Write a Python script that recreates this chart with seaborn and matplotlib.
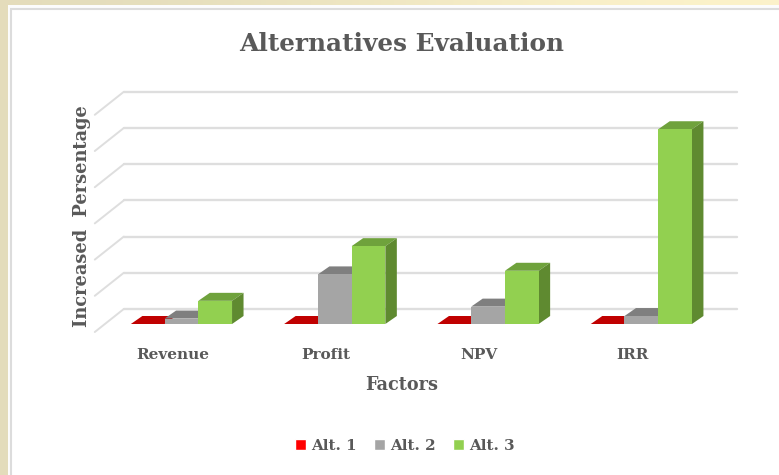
import numpy as np
import pandas as pd
import matplotlib
matplotlib.use('Agg')
import matplotlib.pyplot as plt
import seaborn as sns
from matplotlib.patches import Polygon, Rectangle
from matplotlib.transforms import Affine2D

factors = ['Revenue', 'Profit', 'NPV', 'IRR']
alt_names = ['Alt. 1', 'Alt. 2', 'Alt. 3']
alt1 = [0, 0, 0, 0]
alt2 = [1.5, 13.7, 4.8, 2.2]
alt3 = [6.4, 21.5, 14.7, 53.8]
grid_values = [0, 10, 20, 30, 40, 50, 60]

front_colors = ['#ff0000', '#a5a5a5', '#92d050']
top_colors = ['#c00000', '#7f7f7f', '#6fa23c']
side_colors = ['#c00000', '#6e6e6e', '#5f8a30']
text_color = '#595959'

df = pd.DataFrame({
    'factor': factors * 3,
    'alt': np.repeat(alt_names, 4),
    'value': alt1 + alt2 + alt3,
})

W, H = 779, 475
sns.set_theme(style='white')
plt.rcParams['font.family'] = ['DejaVu Serif']
fig = plt.figure(figsize=(W / 100, H / 100), dpi=100)

# beige frame behind the white panel
bg = fig.add_axes([0, 0, 1, 1], zorder=0)
bg.imshow([[0.0, 1.0], [0.0, 0.5]], cmap=matplotlib.colors.LinearSegmentedColormap.from_list(
    'frame', ['#e3dcbb', '#fdf3cb']), extent=(0, W, 0, H), aspect='auto', interpolation='bicubic')
bg.add_patch(Rectangle((8, -5), W, H, fc='#fcfcfc', ec='none'))
bg.add_patch(Rectangle((11.5, -5), W, H - 3.5, fc='white', ec='#dcdcdc', lw=1.5))
bg.set_xlim(0, W)
bg.set_ylim(0, H)
bg.axis('off')

# axes plane is the one holding the bars' front faces
left, right, bottom, top = 104.8, 718, 324, 106.8
ax = fig.add_axes([left / W, 1 - bottom / H, (right - left) / W, (bottom - top) / H], zorder=1)
ax.patch.set_alpha(0)

sns.barplot(data=df, x='factor', y='value', hue='alt', palette=front_colors,
            saturation=1, width=0.66, gap=0, ax=ax, legend=False, linewidth=0, zorder=3)
ax.set_xlim(-0.5, 3.5)
ax.set_ylim(0, 60)

# back wall and left wall gridlines
back = ax.get_yaxis_transform() + Affine2D().translate(19, 15)
for v in grid_values:
    ax.plot([0, 1], [v, v], transform=back, color='#dedede', lw=1.7, clip_on=False, zorder=1)
    x0, y0 = ax.transData.transform((-0.5, v))
    ax.plot([x0 - 10, x0 + 19], [y0 - 8, y0 + 15], transform=None, color='#dedede', lw=1.4,
            clip_on=False, zorder=1)

# extrude each bar for the 3D look
dx, dy = 11.5, 8
for i in range(3):
    for bar in ax.containers[i]:
        (x0, y0), (x1, y1) = ax.transData.transform(bar.get_bbox().get_points())
        top_face = [(x0, y1), (x1, y1), (x1 + dx, y1 + dy), (x0 + dx, y1 + dy)]
        side_face = [(x1, y0), (x1 + dx, y0 + dy), (x1 + dx, y1 + dy), (x1, y1)]
        z = 2 + i * 0.1
        ax.add_patch(Polygon(top_face, transform=None, fc=top_colors[i], ec='none',
                             clip_on=False, zorder=z))
        if y1 > y0:
            ax.add_patch(Polygon(side_face, transform=None, fc=side_colors[i], ec='none',
                                 clip_on=False, zorder=z))
        bar.set_zorder(z + 0.05)
        bar.set_clip_on(False)

sns.despine(ax=ax, left=True, bottom=True)
ax.set_yticks([])
ax.set_xlabel('')
ax.set_ylabel('')
ax.tick_params(axis='x', length=0, pad=17)
for lab in ax.get_xticklabels():
    lab.set_fontsize(11)
    lab.set_fontweight('bold')
    lab.set_color(text_color)
    lab.set_transform(lab.get_transform() + Affine2D().translate(-9, 0))

fig.text(401.5 / W, 1 - 44 / H, 'Alternatives Evaluation', ha='center', va='center',
         fontsize=17.8, fontweight='bold', color=text_color)
fig.text(402 / W, 1 - 385 / H, 'Factors', ha='center', va='center',
         fontsize=12.7, fontweight='bold', color=text_color)
fig.text(82 / W, 1 - 216 / H, 'Increased  Persentage', rotation=90, ha='center', va='center',
         fontsize=12.8, fontweight='bold', color=text_color)

handles = [Rectangle((0, 0), 1, 1, fc=c) for c in front_colors]
fig.legend(handles, alt_names, loc='center', bbox_to_anchor=(405 / W, 1 - 446 / H), ncol=3,
           frameon=False, prop={'size': 10.9, 'weight': 'bold'}, labelcolor=text_color,
           handlelength=0.75, handleheight=0.75, handletextpad=0.35, columnspacing=1.1)

fig.savefig('out.png', dpi=100)
